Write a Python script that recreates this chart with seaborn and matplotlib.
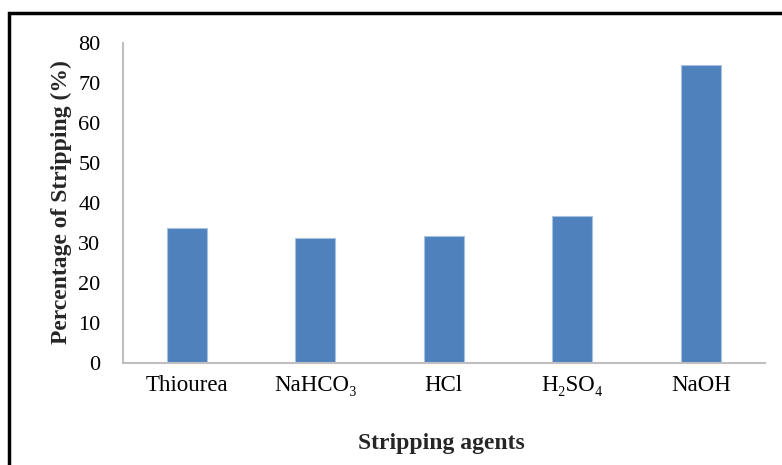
import matplotlib
matplotlib.use("Agg")
import matplotlib.pyplot as plt
import seaborn as sns
import pandas as pd
from matplotlib.patches import Rectangle

agents = ["Thiourea", "NaHCO₃", "HCl", "H₂SO₄", "NaOH"]
stripping_pct = [33.7, 31.2, 31.6, 36.7, 74.6]
y_ticks = [0, 10, 20, 30, 40, 50, 60, 70, 80]

sns.set_theme(style="white")
plt.rcParams["font.family"] = ["Liberation Serif", "DejaVu Serif"]

df = pd.DataFrame({"agent": agents, "pct": stripping_pct})

W, H = 782, 465
fig = plt.figure(figsize=(W / 100, H / 100), dpi=100)
ax = fig.add_axes([122.7 / W, (H - 362.7) / H, (765 - 122.7) / W, (362.7 - 43) / H])

sns.barplot(data=df, x="agent", y="pct", ax=ax, color="#4F81BD", saturation=1,
            width=0.31, edgecolor="#A9C1E0", linewidth=0.8)

ax.set_xlim(-0.5, 4.5)
ax.set_ylim(0, 80)
ax.set_yticks(y_ticks)
ax.set_yticklabels([str(t) for t in y_ticks])
ax.tick_params(axis="y", length=0, pad=16, labelsize=16, colors="black")
ax.tick_params(axis="x", length=0, pad=9, labelsize=16.5, colors="black")
ax.set_xlabel("")
ax.set_ylabel("")

for side in ["top", "right"]:
    ax.spines[side].set_visible(False)
for side in ["left", "bottom"]:
    ax.spines[side].set_color("#BFBFBF")
    ax.spines[side].set_linewidth(1.5)

fig.text(441 / W, 1 - 443 / H, "Stripping agents", ha="center", va="center",
         fontsize=17, fontweight="bold")
fig.text(61 / W, 1 - 202 / H, "Percentage of Stripping (%)", ha="center", va="center",
         rotation=90, fontsize=17, fontweight="bold")

# chart-area frame (top and left edges visible)
fig.patches.append(Rectangle((9 / W, -0.2), 1.2, 1.2 - 13 / H, transform=fig.transFigure,
                             fill=False, edgecolor="black", linewidth=2.5))

fig.savefig("out.png", dpi=100, facecolor="white")
